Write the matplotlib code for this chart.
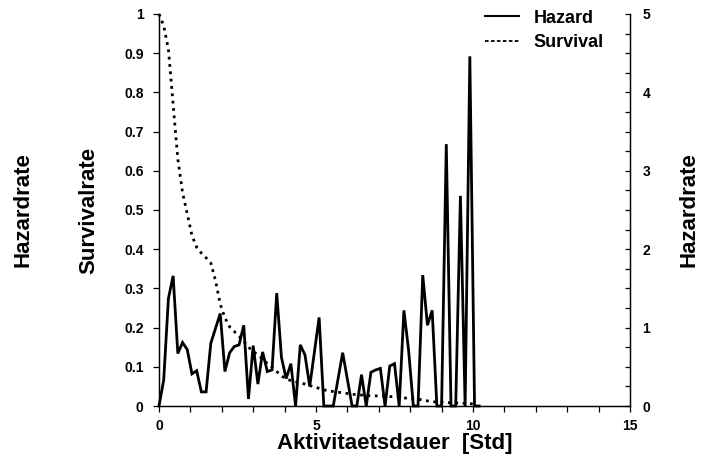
import matplotlib
matplotlib.use("Agg")
import matplotlib.pyplot as plt
from matplotlib.lines import Line2D
from matplotlib.ticker import MultipleLocator, FixedLocator

plt.rcParams['font.family'] = ['Liberation Sans', 'DejaVu Sans']
plt.rcParams['font.weight'] = 'bold'

#------Daten------#
dauer = [0.00, 0.15, 0.30, 0.45, 0.60, 0.75, 0.90, 1.05, 1.20, 1.35,
         1.50, 1.65, 1.80, 1.95, 2.10, 2.25, 2.40, 2.55, 2.70, 2.85,
         3.00, 3.15, 3.30, 3.45, 3.60, 3.75, 3.90, 4.05, 4.20, 4.35,
         4.50, 4.65, 4.80, 4.95, 5.10, 5.25, 5.40, 5.55, 5.70, 5.85,
         6.00, 6.15, 6.30, 6.45, 6.60, 6.75, 6.90, 7.05, 7.20, 7.35,
         7.50, 7.65, 7.80, 7.95, 8.10, 8.25, 8.40, 8.55, 8.70, 8.85,
         9.00, 9.15, 9.30, 9.45, 9.60, 9.75, 9.90, 10.05, 10.20]

hazard = [0.00, 0.33, 1.37, 1.66, 0.67, 0.81, 0.72, 0.41, 0.45, 0.18,
          0.18, 0.80, 0.99, 1.18, 0.44, 0.68, 0.76, 0.78, 1.03, 0.09,
          0.77, 0.28, 0.69, 0.44, 0.46, 1.44, 0.62, 0.35, 0.54, 0.00,
          0.78, 0.65, 0.25, 0.69, 1.13, 0.00, 0.00, 0.00, 0.34, 0.68,
          0.34, 0.00, 0.00, 0.40, 0.00, 0.43, 0.46, 0.48, 0.00, 0.51,
          0.54, 0.00, 1.22, 0.71, 0.00, 0.00, 1.67, 1.03, 1.22, 0.00,
          0.00, 3.34, 0.00, 0.00, 2.68, 0.00, 4.46, 0.00, 0.00]

survival = [1.000, 0.970, 0.910, 0.770, 0.630, 0.545, 0.490, 0.435, 0.405, 0.390,
            0.378, 0.365, 0.320, 0.260, 0.225, 0.202, 0.190, 0.178, 0.165, 0.150,
            0.139, 0.130, 0.120, 0.108, 0.099, 0.088, 0.077, 0.069, 0.065, 0.062,
            0.059, 0.056, 0.052, 0.049, 0.045, 0.041, 0.039, 0.037, 0.035, 0.034,
            0.032, 0.030, 0.029, 0.028, 0.027, 0.026, 0.026, 0.025, 0.025, 0.024,
            0.024, 0.023, 0.021, 0.019, 0.018, 0.017, 0.016, 0.013, 0.011, 0.010,
            0.010, 0.009, 0.008, 0.008, 0.007, 0.007, 0.006, 0.005]

surv_ticks = [0, 0.1, 0.2, 0.3, 0.4, 0.5, 0.6, 0.7, 0.8, 0.9, 1]
surv_labels = ['0', '0.1', '0.2', '0.3', '0.4', '0.5', '0.6', '0.7', '0.8', '0.9', '1']
haz_ticks = [0, 1, 2, 3, 4, 5]
x_ticks = [0, 5, 10, 15]

#------Grafik------#
fig = plt.figure(figsize=(7.12, 4.58), dpi=100)
ax = fig.add_axes([0.2233, 0.1135, 0.6615, 0.856])
ax2 = ax.twinx()

# Survival (linke Achse), gepunktet
ax.plot(dauer[:len(survival)], survival, color='black', lw=2.0, ls=':', clip_on=False)
# Hazard (rechte Achse), durchgezogen
ax2.plot(dauer, hazard, color='black', lw=2.0, clip_on=False, solid_joinstyle='miter')

ax.set_xlim(0, 15)
ax.set_ylim(0, 1)
ax2.set_ylim(0, 5)

ax.yaxis.set_major_locator(FixedLocator(surv_ticks))
ax.set_yticklabels(surv_labels)
ax.xaxis.set_major_locator(FixedLocator(x_ticks))
ax.xaxis.set_minor_locator(MultipleLocator(1))
ax2.yaxis.set_major_locator(FixedLocator(haz_ticks))
ax2.yaxis.set_minor_locator(MultipleLocator(0.25))

ax.tick_params(axis='y', direction='out', length=4, width=0.9, pad=7, labelsize=10)
ax.tick_params(axis='x', which='both', direction='out', length=4, width=0.9, pad=5, labelsize=10)
ax2.tick_params(axis='y', which='both', direction='in', length=3.5, width=0.9, pad=9, labelsize=10)

for a in (ax, ax2):
    a.spines['top'].set_visible(False)
    for s in a.spines.values():
        s.set_linewidth(0.9)

ax.set_xlabel('Aktivitaetsdauer  [Std]', fontsize=16, fontweight='bold')
ax.xaxis.set_label_coords(0.5, -0.068)
ax.set_ylabel('Survivalrate', fontsize=16, fontweight='bold')
ax.yaxis.set_label_coords(-0.127, 0.5)
ax2.set_ylabel('Hazardrate', fontsize=16, fontweight='bold')
ax2.yaxis.set_label_coords(1.104, 0.5)
fig.text(34 / 712, 1 - 210 / 458, 'Hazardrate', rotation=90, ha='right', va='center',
         fontsize=16, fontweight='bold')

handles = [Line2D([], [], color='black', lw=1.5, label='Hazard'),
           Line2D([], [], color='black', lw=1.3, dashes=(2, 1.3), label='Survival')]
ax2.legend(handles=handles, loc='upper right', bbox_to_anchor=(607 / 712, 1 - 6 / 458),
           bbox_transform=fig.transFigure, frameon=False, fontsize=13,
           handlelength=1.9, handletextpad=0.8, labelspacing=0.4, borderaxespad=0, borderpad=0.2)

fig.savefig('out.png', dpi=100)
